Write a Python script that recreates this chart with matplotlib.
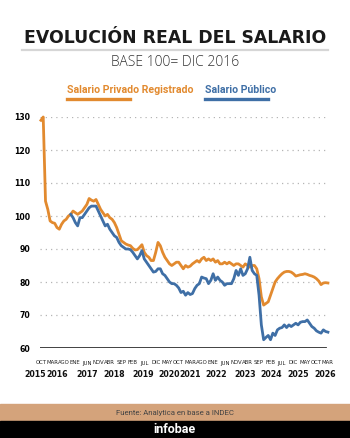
import matplotlib
matplotlib.use("Agg")
import matplotlib.pyplot as plt
from matplotlib.lines import Line2D
from matplotlib.patches import Rectangle

# datos (indice base 100 = dic 2016), mensual oct 2015 - mar 2026
privado = [129, 130, 104.5, 102, 98.5, 98, 97.8, 96.5, 96, 97.5,
           98.5, 99, 100, 100.5, 101.5, 101, 100.5, 101, 101.5, 102.5,
           103.5, 105.3, 104.8, 104.5, 105, 103.5, 102, 101, 100, 100.5,
           99.5, 99, 98, 96.5, 94.5, 92.5, 92, 91.5, 91.2, 91,
           90.2, 89.7, 89.8, 90.5, 91.3, 89, 88, 87.5, 86.5, 86.5,
           89, 92, 91, 89, 87.5, 86.5, 85.5, 85, 85.5, 86,
           86, 85, 84, 85, 84.5, 84.8, 85.5, 86, 86.5, 86,
           87, 87.5, 86.5, 87, 86.5, 87, 86, 86.5, 85.5, 85.5,
           86, 85.5, 86, 85.5, 85, 85.5, 85.5, 85, 84.5, 85.5,
           85, 84.5, 85, 85, 84, 81, 75.5, 73, 73.5, 74,
           76, 78, 80, 81, 81.8, 82.5, 83, 83.2, 83.2, 83,
           82.5, 81.8, 82, 82.2, 82.3, 82.5, 82.3, 82, 81.8, 81.5,
           81, 80.3, 79.2, 79.7, 79.8, 79.7]

publico_inicio = 13  # nov 2016
publico = [100.5, 99.5, 98, 97, 99.5, 99.5, 100.5, 101.5, 102.5, 103,
           103, 103, 101.5, 100, 98.5, 97, 97.5, 96, 95, 94,
           93.5, 92, 91, 90.5, 90, 90, 89.8, 89, 88, 87,
           88, 89.5, 87, 86, 85, 84, 83, 83.2, 84, 84,
           82.5, 82, 81, 80, 79.5, 79.5, 79, 78.2, 76.8, 77.2,
           76, 76.8, 76.2, 76.5, 78, 79, 79.5, 81.5, 81.2, 81,
           79.5, 80.5, 82.5, 80.5, 81.5, 80.5, 80, 79, 79.5, 79.5,
           79.5, 81, 83.5, 82, 84, 82, 82.5, 84, 87.5, 83.5,
           82.5, 82, 76, 67, 62.5, 63.2, 63.8, 62.5, 64.5, 63.8,
           65.5, 66, 66.2, 67, 66.2, 67, 66.5, 67, 67.5, 67,
           67.8, 68, 68, 68.5, 67.5, 66.5, 66, 65.2, 64.8, 64.5,
           65.5, 65, 64.8]

meses = ["OCT", "MAR", "AGO", "ENE", "JUN", "NOV", "ABR", "SEP", "FEB", "JUL", "DIC", "MAY", "OCT",
         "MAR", "AGO", "ENE", "JUN", "NOV", "ABR", "SEP", "FEB", "JUL", "DIC", "MAY", "OCT", "MAR"]
anios = ["2015", "2016", "2017", "2018", "2019", "2020", "2021", "2022", "2023", "2024", "2025", "2026"]
anios_pos = [-2.6, 7, 20, 32, 44.5, 56, 65, 76.5, 89, 100.5, 112, 124]

NARANJA = "#E28A2F"
AZUL = "#3F6FA6"

fig = plt.figure(figsize=(3.5, 4.38), dpi=100)
fig.patch.set_facecolor("white")

fig.text(0.5, 1 - 38 / 438, "EVOLUCIÓN REAL DEL SALARIO", ha="center", va="center",
         fontsize=12.4, fontweight="bold", family="DejaVu Sans", color="#1a1a1a")
fig.add_artist(Line2D([22 / 350, 328 / 350], [1 - 50 / 438] * 2, color="#d6d6d6", lw=1.6))
fig.text(0.5, 1 - 63 / 438, "BASE 100= DIC 2016", ha="center", va="center",
         fontsize=10, family="Open Sans", color="#333333", fontweight="light")

fig.text(67 / 350, 1 - 90 / 438, "Salario Privado Registrado", ha="left", va="center",
         fontsize=7.6, fontweight="bold", family="Roboto", color=NARANJA)
fig.add_artist(Line2D([67 / 350, 130 / 350], [1 - 99 / 438] * 2, color=NARANJA, lw=2.4))
fig.text(205 / 350, 1 - 90 / 438, "Salario Público", ha="left", va="center",
         fontsize=7.6, fontweight="bold", family="Roboto", color=AZUL)
fig.add_artist(Line2D([205 / 350, 268 / 350], [1 - 99 / 438] * 2, color=AZUL, lw=2.4))

ax = fig.add_axes([40 / 350, 1 - 348 / 438, 290 / 350, 231 / 438])
x_priv = list(range(len(privado)))
x_pub = list(range(publico_inicio, publico_inicio + len(publico)))
ax.plot(x_priv, privado, color=NARANJA, lw=2.0, clip_on=False, solid_joinstyle="round", zorder=3)
ax.plot(x_pub, publico, color=AZUL, lw=2.0, clip_on=False, solid_joinstyle="round", zorder=4)

ax.set_xlim(-0.4, 125.9)
ax.set_ylim(60, 130)
ax.set_yticks(range(60, 131, 10))
ax.set_yticklabels([str(v) for v in range(60, 131, 10)], fontsize=5.6, fontweight="bold",
                   family="DejaVu Sans")
for v in range(70, 131, 10):
    ax.axhline(v, xmin=0, xmax=0.985, color="#b5b5b5", lw=0.9, ls=(0, (1, 3.2)), zorder=1)
ax.axhline(60, xmin=0, xmax=0.985, color="#333333", lw=1.3, zorder=2)

ax.set_xticks(range(0, 126, 5))
ax.set_xticklabels(meses, fontsize=3.9, family="DejaVu Sans", color="#222222")
ax.tick_params(axis="x", length=0, pad=9)
ax.tick_params(axis="y", length=0, pad=7)
for s in ax.spines.values():
    s.set_visible(False)

for lab, p in zip(anios, anios_pos):
    ax.text(p, -0.113, lab, transform=ax.get_xaxis_transform(), ha="center", va="center",
            fontsize=5.7, fontweight="bold", family="DejaVu Sans", color="#111111")

fig.add_artist(Rectangle((0, 1 - 421 / 438), 1, 17 / 438, color="#D4A37B", transform=fig.transFigure))
fig.add_artist(Rectangle((0, 0), 1, 17 / 438, color="black", transform=fig.transFigure))
fig.text(0.5, 1 - 413 / 438, "Fuente: Analytica en base a INDEC", ha="center", va="center",
         fontsize=5.6, family="Roboto", color="#444444")
fig.text(0.5, 1 - 429.5 / 438, "infobae", ha="center", va="center",
         fontsize=9, fontweight="bold", family="Roboto", color="white")

fig.savefig("out.png", dpi=100)
